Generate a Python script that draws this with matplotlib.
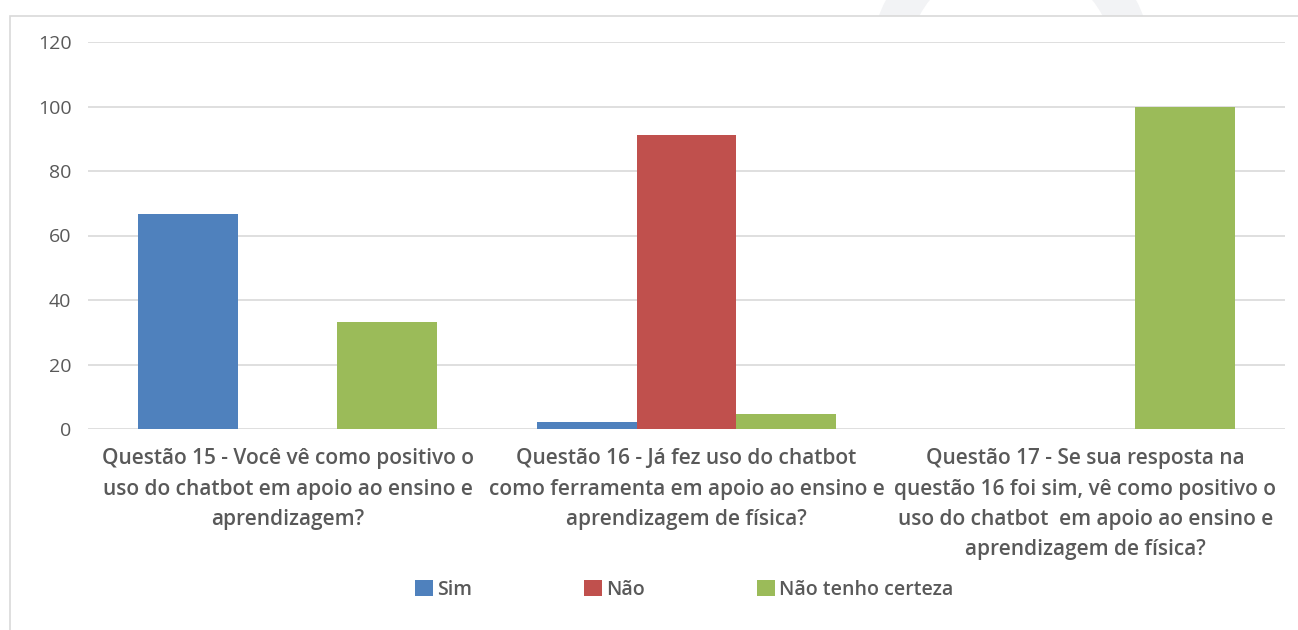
import numpy as np
import matplotlib.pyplot as plt
from matplotlib.patches import Rectangle, Wedge

plt.rcParams['font.family'] = ['Open Sans', 'DejaVu Sans']

# Data
categories = [
    "Questão 15 - Você vê como positivo o\nuso do chatbot em apoio ao ensino e\naprendizagem?",
    "Questão 16 - Já fez uso do chatbot\ncomo ferramenta em apoio ao ensino e\naprendizagem de física?",
    "Questão 17 - Se sua resposta na\nquestão 16 foi sim, vê como positivo o\nuso do chatbot  em apoio ao ensino e\naprendizagem de física?",
]
series_names = ["Sim", "Não", "Não tenho certeza"]
sim = [66.7, 2.3, 0]
nao = [0, 91.1, 0]
nao_tenho_certeza = [33.3, 4.5, 100]

colors = ["#4f81bd", "#c0504d", "#9bbb59"]
series = [sim, nao, nao_tenho_certeza]

W, H = 1298, 630
fig = plt.figure(figsize=(W / 100, H / 100), dpi=100)

# faint watermark ring peeking above the chart frame
ring = Wedge((1011, H - 65), 141, 0, 360, width=37, transform=None,
             facecolor="#f2f3f5", edgecolor="none")
fig.patches.append(ring)
clip = Rectangle((0, H - 16), W, 16, transform=None)
ring.set_clip_path(clip)

ax = fig.add_axes([88 / W, 1 - 429 / H, (1285 - 88) / W, (429 - 42) / H])

x = np.arange(len(categories))
width = 0.25
for i, (vals, name, c) in enumerate(zip(series, series_names, colors)):
    ax.bar(x + (i - 1) * width, vals, width, color=c, label=name, zorder=3)

ax.set_xlim(-0.5, 2.5)
ax.set_ylim(0, 120)
ax.set_yticks(range(0, 121, 20))
ax.yaxis.grid(True, color="#d9d9d9", linewidth=1.2, zorder=0)
for s in ax.spines.values():
    s.set_visible(False)
ax.tick_params(axis="y", length=0, pad=12, labelsize=14, labelcolor="#595959")
ax.tick_params(axis="x", length=0, pad=14)
ax.set_xticks(x)
ax.set_xticklabels(categories, fontsize=15, color="#595959", fontweight="semibold",
                   linespacing=1.58)

leg = fig.legend(loc="center", bbox_to_anchor=(0.527, 1 - 590 / H), ncol=3, frameon=False,
                 fontsize=14, handlelength=0.9, handleheight=0.9, handletextpad=0.2,
                 columnspacing=5.8)
for t in leg.get_texts():
    t.set_color("#595959")
    t.set_fontweight("semibold")

# outer chart frame
fig.patches.append(Rectangle((10 / W, -0.1), 1.2, 1 - 16 / H + 0.1, transform=fig.transFigure,
                             fill=False, edgecolor="#d9d9d9", linewidth=1.2))

fig.savefig("out.png", dpi=100)
